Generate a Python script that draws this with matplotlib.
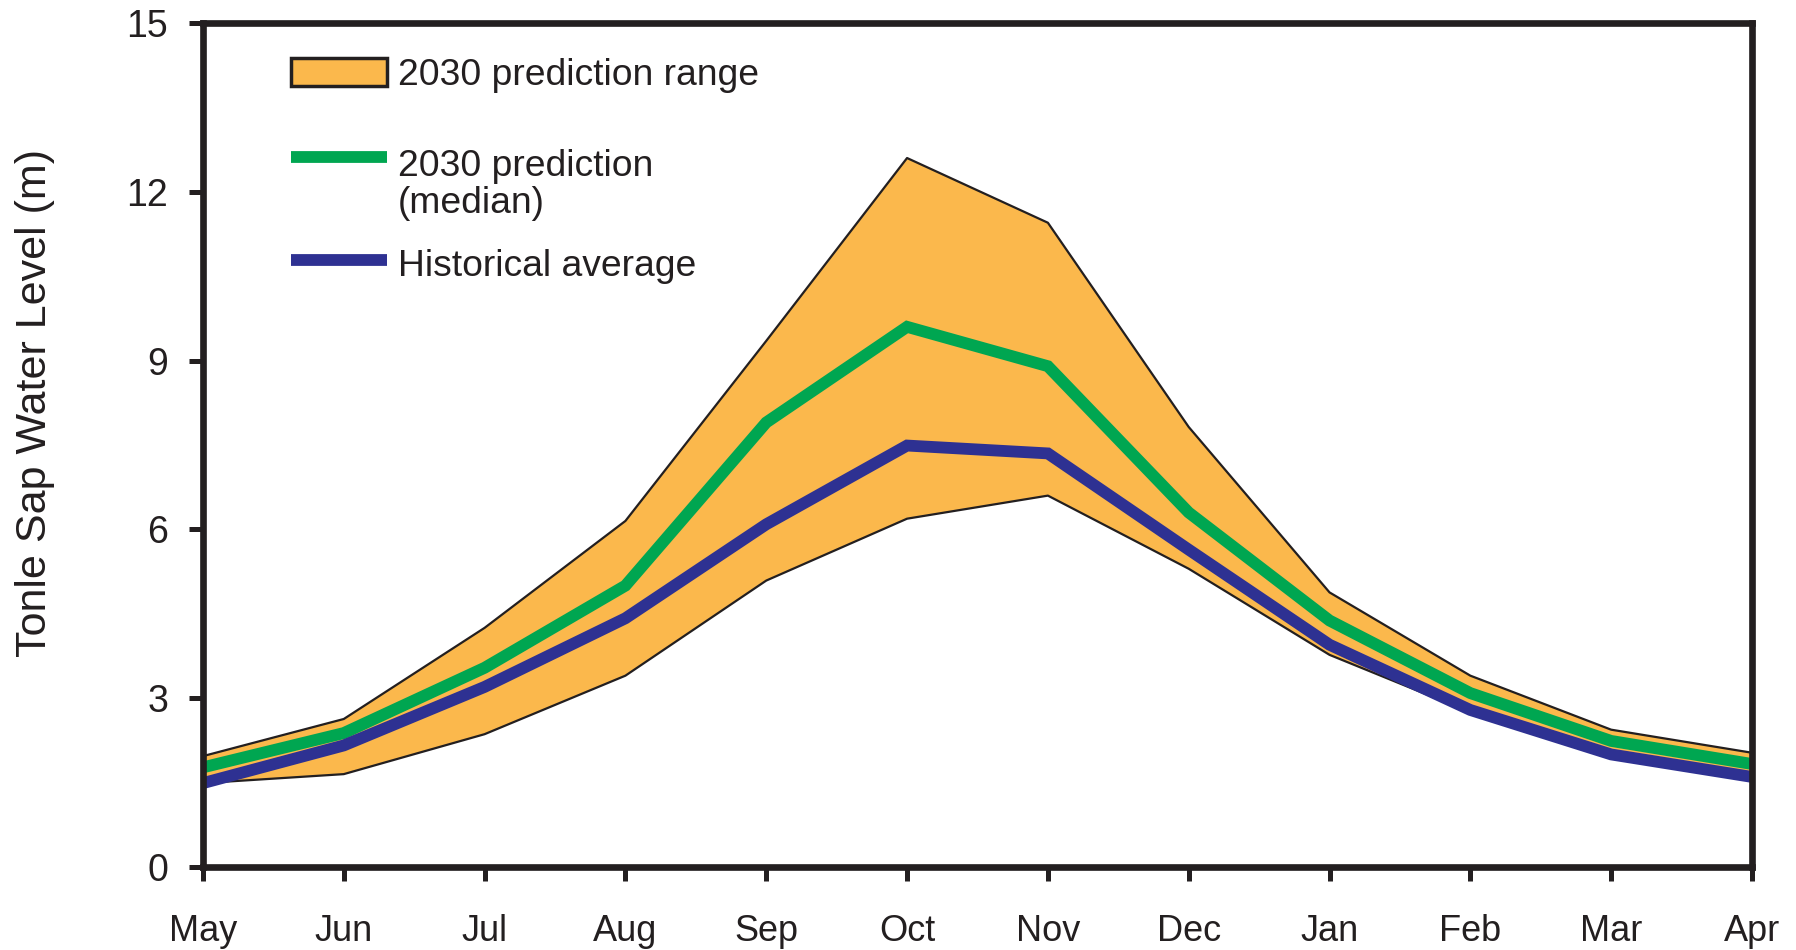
import matplotlib.pyplot as plt
from matplotlib.patches import Rectangle
from matplotlib.lines import Line2D

plt.rcParams['font.family'] = ['Liberation Sans', 'DejaVu Sans']

months = ['May', 'Jun', 'Jul', 'Aug', 'Sep', 'Oct', 'Nov', 'Dec', 'Jan', 'Feb', 'Mar', 'Apr']
range_upper = [1.97, 2.63, 4.25, 6.15, 9.35, 12.6, 11.45, 7.82, 4.88, 3.4, 2.44, 2.03]
range_lower = [1.49, 1.65, 2.36, 3.4, 5.09, 6.19, 6.6, 5.3, 3.77, 2.75, 2.0, 1.55]
median_2030 = [1.77, 2.38, 3.54, 5.0, 7.9, 9.6, 8.9, 6.3, 4.38, 3.09, 2.24, 1.83]
historical = [1.49, 2.16, 3.2, 4.42, 6.09, 7.49, 7.35, 5.64, 3.95, 2.79, 2.0, 1.6]

orange = '#FBB84C'
green = '#00A651'
blue = '#2E3192'
dark = '#231F20'

x = list(range(len(months)))

fig = plt.figure(figsize=(17.96, 9.5), dpi=100)
ax = fig.add_axes([0.113, 0.0874, 0.8625, 0.8884])

# prediction range (filled band with thin black outline)
ax.fill_between(x, range_lower, range_upper, facecolor=orange, edgecolor='none', zorder=1)
ax.plot(x, range_upper, color=dark, lw=1.6, zorder=2)
ax.plot(x, range_lower, color=dark, lw=1.6, zorder=2)

ax.plot(x, median_2030, color=green, lw=8.5, solid_joinstyle='miter', zorder=3)
ax.plot(x, historical, color=blue, lw=8.5, solid_joinstyle='miter', zorder=4)

ax.set_xlim(0, 11)
ax.set_ylim(0, 15)
ax.set_xticks(x)
ax.set_xticklabels(months)
ax.set_yticks([0, 3, 6, 9, 12, 15])

for s in ax.spines.values():
    s.set_linewidth(4.8)
    s.set_color(dark)
    s.set_zorder(5)

ax.tick_params(axis='both', direction='out', length=10, width=3.6, colors=dark,
               labelsize=26, labelcolor=dark)
ax.tick_params(axis='x', pad=24)
ax.tick_params(axis='y', labelsize=27, pad=15)

ax.set_ylabel('Tonle Sap Water Level (m)', fontsize=31, color=dark)
ax.yaxis.set_label_coords(-0.0955, 0.55)

# legend drawn by hand in axes fraction
ax.add_patch(Rectangle((0.057, 0.925), 0.062, 0.034, transform=ax.transAxes,
                       facecolor=orange, edgecolor=dark, lw=2.5, zorder=6))
ax.add_line(Line2D([0.057, 0.119], [0.841, 0.841], transform=ax.transAxes,
                   color=green, lw=8.5, solid_capstyle='butt', zorder=6))
ax.add_line(Line2D([0.057, 0.119], [0.719, 0.719], transform=ax.transAxes,
                   color=blue, lw=8.5, solid_capstyle='butt', zorder=6))

ax.text(0.1256, 0.938, '2030 prediction range', transform=ax.transAxes,
        fontsize=26.8, color=dark, va='center', ha='left')
ax.text(0.1256, 0.851, '2030 prediction\n(median)', transform=ax.transAxes,
        fontsize=26.8, color=dark, va='top', ha='left', linespacing=1.08)
ax.text(0.1256, 0.712, 'Historical average', transform=ax.transAxes,
        fontsize=26.8, color=dark, va='center', ha='left')

fig.savefig('out.png', dpi=100)
